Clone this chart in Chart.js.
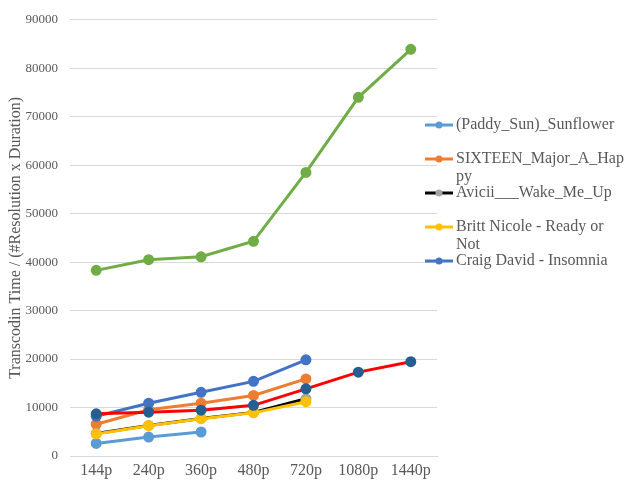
<!DOCTYPE html>
<html>
<head>
<meta charset="utf-8">
<script src="https://cdn.jsdelivr.net/npm/chart.js@4.4.1/dist/chart.umd.min.js"></script>
<style>
  html, body { margin: 0; padding: 0; background: #fff; }
  #wrap { width: 627px; height: 486px; position: relative; }
</style>
</head>
<body>
<div id="wrap"><canvas id="c"></canvas></div>
<script>
// Resolutions on the x axis
const resolutions = ['144p', '240p', '360p', '480p', '720p', '1080p', '1440p'];

// Transcoding time normalised by resolution and duration, per track
const paddySun   = [2600, 3900, 4950, null, null, null, null];
const sixteen    = [6550, 9550, 10900, 12500, 15900, null, null];
const avicii     = [4650, 6300, 7750, 9000, 11800, null, null];
const brittNicole= [4550, 6250, 7700, 8900, 11200, null, null];
const craigDavid = [8200, 10900, 13150, 15400, 19850, null, null];
const longTrack  = [38300, 40500, 41100, 44300, 58500, 74000, 83900];
const fullRange  = [8700, 9050, 9450, 10450, 13850, 17300, 19450];

const seriesNames = [
  '(Paddy_Sun)_Sunflower',
  'SIXTEEN_Major_A_Happy',
  'Avicii___Wake_Me_Up',
  'Britt Nicole - Ready or Not',
  'Craig David - Insomnia',
  'Series6',
  'Series7'
];

const yTicks = [0, 10000, 20000, 30000, 40000, 50000, 60000, 70000, 80000, 90000];

const serif = "'Liberation Serif', 'Times New Roman', serif";

function series(i, data, line, marker) {
  return {
    label: seriesNames[i],
    data: data,
    borderColor: line,
    backgroundColor: marker,
    pointBackgroundColor: marker,
    pointBorderColor: marker,
    pointRadius: 4,
    pointHoverRadius: 4,
    borderWidth: 3,
    tension: 0,
    spanGaps: false,
    order: 10 - i
  };
}

const datasets = [
  series(0, paddySun, '#5B9BD5', '#5B9BD5'),
  series(1, sixteen, '#ED7D31', '#ED7D31'),
  series(2, avicii, '#000000', '#A5A5A5'),
  series(3, brittNicole, '#FFC000', '#FFC000'),
  series(4, craigDavid, '#4472C4', '#4472C4'),
  series(5, longTrack, '#70AD47', '#70AD47'),
  series(6, fullRange, '#FF0000', '#255E91')
];

// Legend on the right, wrapping long names; only the first five entries fit
const sideLegend = {
  id: 'sideLegend',
  afterDraw(chart) {
    const ctx = chart.ctx;
    const x0 = 425, textX = 456, maxW = 170;
    let y = 125;
    ctx.save();
    ctx.font = '16px ' + serif;
    ctx.textBaseline = 'middle';
    chart.data.datasets.slice(0, 5).forEach(ds => {
      ctx.strokeStyle = ds.borderColor;
      ctx.lineWidth = 3;
      ctx.beginPath();
      ctx.moveTo(x0, y);
      ctx.lineTo(x0 + 28, y);
      ctx.stroke();
      ctx.fillStyle = ds.pointBackgroundColor;
      ctx.beginPath();
      ctx.arc(x0 + 14, y, 3.5, 0, Math.PI * 2);
      ctx.fill();
      // wrap words, falling back to character breaks
      const lines = [];
      let cur = '';
      const words = ds.label.split(' ');
      words.forEach(w => {
        const trial = cur ? cur + ' ' + w : w;
        if (ctx.measureText(trial).width <= maxW) { cur = trial; return; }
        if (cur) { lines.push(cur); cur = ''; }
        let piece = '';
        for (const ch of w) {
          if (ctx.measureText(piece + ch).width > maxW) { lines.push(piece); piece = ch; }
          else piece += ch;
        }
        cur = piece;
      });
      if (cur) lines.push(cur);
      ctx.fillStyle = '#595959';
      lines.forEach((ln, k) => ctx.fillText(ln, textX, y + k * 18));
      y += 34;
    });
    ctx.restore();
  }
};

new Chart(document.getElementById('c'), {
  type: 'line',
  data: { labels: resolutions, datasets: datasets },
  plugins: [sideLegend],
  options: {
    responsive: true,
    maintainAspectRatio: false,
    animation: false,
    layout: { padding: { left: 6, right: 190, top: 16, bottom: 0 } },
    plugins: {
      legend: { display: false },
      tooltip: { enabled: false }
    },
    scales: {
      x: {
        offset: true,
        grid: { display: false, drawTicks: false },
        border: { display: true, color: '#D9D9D9', width: 1 },
        ticks: { color: '#595959', font: { family: serif, size: 16 }, padding: 5, maxRotation: 0 },
        afterFit(scale) { scale.height = 30; }
      },
      y: {
        min: 0,
        max: 90000,
        afterBuildTicks(scale) { scale.ticks = yTicks.map(v => ({ value: v })); },
        grid: { color: '#D9D9D9', lineWidth: 1, drawTicks: false },
        border: { display: false },
        ticks: {
          color: '#595959',
          font: { family: serif, size: 13 },
          padding: 12,
          callback: v => String(v)
        },
        title: {
          display: true,
          text: 'Transcodin Time / (#Resolution x Duration)',
          color: '#595959',
          font: { family: serif, size: 16, weight: 'normal' },
          padding: { top: 0, bottom: 0 }
        },
        afterFit(scale) { scale.width = 64; }
      }
    }
  }
});
</script>
</body>
</html>
